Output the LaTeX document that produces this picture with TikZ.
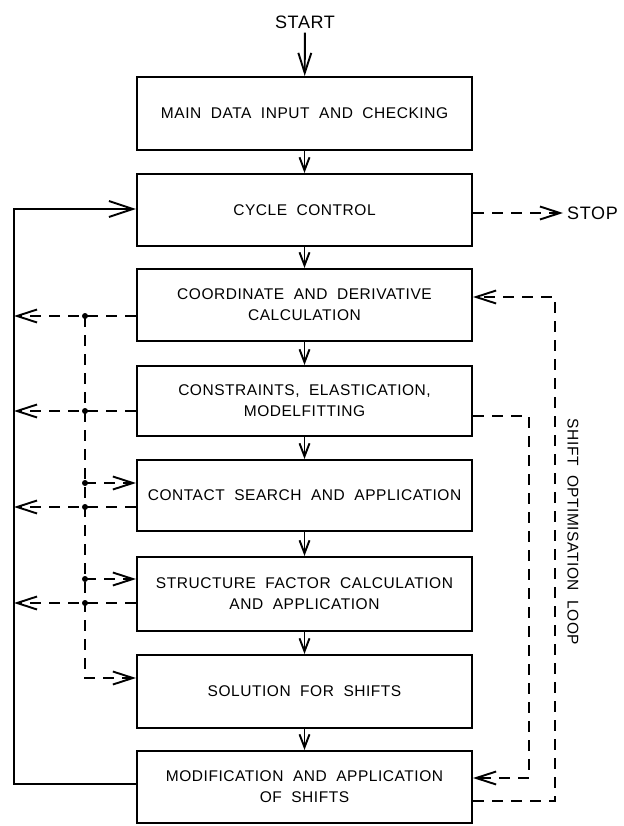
\documentclass[tikz,border=0pt]{standalone}
\usepackage{fontspec}
\setmainfont{Liberation Sans}[LetterSpace=3.5]
\usetikzlibrary{arrows.meta}
\newcommand\boxfont{\fontsize{15.5pt}{21pt}\selectfont\spaceskip=9.5pt\relax}
\newcommand\bigfont{\fontsize{18pt}{22pt}\selectfont}
\begin{document}
\begin{tikzpicture}[x=1pt,y=-1pt,
  box/.style={draw, line width=2.1pt, minimum width=335pt, inner sep=0pt, align=center, font=\boxfont},
  ln/.style={line width=1.9pt},
  dsh/.style={line width=1.9pt, dash pattern=on 11pt off 8pt},
  varr/.style={-{Straight Barb[length=13pt,width=10pt]}},
  harr/.style={-{Straight Barb[length=20pt,width=13pt]}},
  bigarr/.style={-{Straight Barb[length=24pt,width=16pt]}},
  dot/.style={circle, fill, inner sep=0pt, minimum size=6pt},
  lbl/.style={font=\bigfont, inner sep=4pt}]
\fill[white] (0,0) rectangle (623,826);
\useasboundingbox (0,0) rectangle (623,826);

% boxes
\node[box, minimum height=73pt] (b1) at (304.5,113.5) {MAIN DATA INPUT AND CHECKING};
\node[box, minimum height=72pt] (b2) at (304.5,210) {CYCLE CONTROL};
\node[box, minimum height=72pt] (b3) at (304.5,305) {COORDINATE AND DERIVATIVE\\CALCULATION};
\node[box, minimum height=70pt] (b4) at (304.5,401) {CONSTRAINTS, ELASTICATION,\\MODELFITTING};
\node[box, minimum height=71pt] (b5) at (304.5,495.5) {CONTACT SEARCH AND APPLICATION};
\node[box, minimum height=74pt] (b6) at (304.5,594) {STRUCTURE FACTOR CALCULATION\\AND APPLICATION};
\node[box, minimum height=73pt] (b7) at (304.5,691.5) {SOLUTION FOR SHIFTS};
\node[box, minimum height=72pt] (b8) at (304.5,787) {MODIFICATION AND APPLICATION\\OF SHIFTS};

% labels
\node[lbl] (start) at (305,22) {START};
\node[lbl, anchor=west] (stop) at (563,213) {STOP};
\node[font=\boxfont, rotate=-90, inner sep=0pt] (loop) at (573,532) {SHIFT OPTIMISATION LOOP};

% guide coordinates
\coordinate (L) at (14,0);
\coordinate (X1) at (529,0);
\coordinate (X2) at (555,0);

% ports
\coordinate (l2) at ([yshift=1pt]b2.west);
\coordinate (s2) at ([yshift=-3pt]b2.east);
\coordinate (o3) at ([yshift=-11pt]b3.west);
\coordinate (r3) at ([yshift=8pt]b3.east);
\coordinate (o4) at ([yshift=-10pt]b4.west);
\coordinate (r4) at ([yshift=-15pt]b4.east);
\coordinate (i5) at ([yshift=12.5pt]b5.west);
\coordinate (o5) at ([yshift=-11.5pt]b5.west);
\coordinate (i6) at ([yshift=15pt]b6.west);
\coordinate (o6) at ([yshift=-9pt]b6.west);
\coordinate (i7) at ([yshift=13.5pt]b7.west);
\coordinate (l8) at ([yshift=3pt]b8.west);
\coordinate (ri8) at ([yshift=9pt]b8.east);
\coordinate (ro8) at ([yshift=-14pt]b8.east);

% junction dots
\node[dot] (j3) at (85,316) {};
\node[dot] (j4) at (o4 -| j3) {};
\node[dot] (j5i) at (i5 -| j3) {};
\node[dot] (j5o) at (o5 -| j3) {};
\node[dot] (j6i) at (i6 -| j3) {};
\node[dot] (j6o) at (o6 -| j3) {};

% main flow
\draw[ln, harr] (start) -- (b1);
\draw[ln, varr] (b1) -- (b2);
\draw[ln, varr] (b2) -- (b3);
\draw[ln, varr] (b3) -- (b4);
\draw[ln, varr] (b4) -- (b5);
\draw[ln, varr] (b5) -- (b6);
\draw[ln, varr] (b6) -- (b7);
\draw[ln, varr] (b7) -- (b8);

% main cycle loop
\draw[ln, bigarr] (l8) -- (l8 -| L) -- (L |- l2) -- (l2);

% stop
\draw[dsh, harr] (s2) -- (stop.west);

% left dashed outputs
\draw[dsh, harr] (o3) -- (j3.center) -- (o3 -| L);
\draw[dsh, harr] (o4) -- (j4.center) -- (o4 -| L);
\draw[dsh, harr] (o5) -- (j5o.center) -- (o5 -| L);
\draw[dsh, harr] (o6) -- (j6o.center) -- (o6 -| L);

% dashed distribution line
\draw[dsh, harr] (j3.center) -- (j3.center |- i7) -- (i7);
\draw[dsh, harr] (j5i.center) -- (i5);
\draw[dsh, harr] (j6i.center) -- (i6);

% shift optimisation loop
\draw[dsh, harr] (r4) -- (r4 -| X1) -- (X1 |- ri8) -- (ri8);
\draw[dsh, harr] (ro8) -- (ro8 -| X2) -- (X2 |- r3) -- (r3);
\end{tikzpicture}
\end{document}
